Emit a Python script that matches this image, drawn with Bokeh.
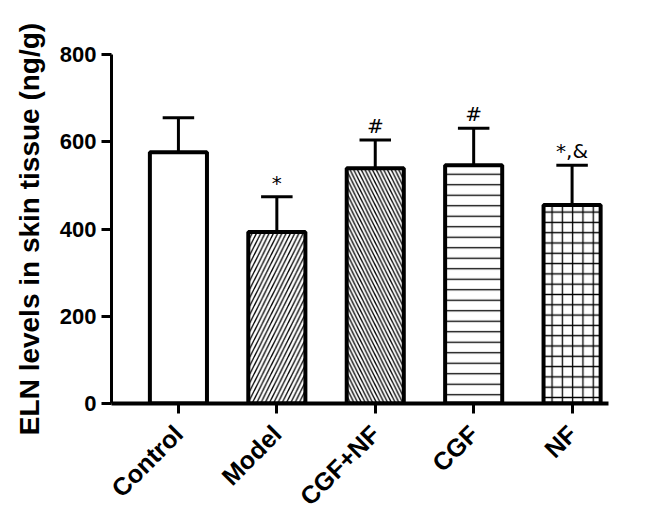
import math
from bokeh.plotting import figure
from bokeh.models import ColumnDataSource, FixedTicker, Range1d
from bokeh.core.properties import value
from bokeh.embed import file_html
from bokeh.resources import INLINE

# ---- data ----
categories = ["Control", "Model", "CGF+NF", "CGF", "NF"]
means = [576, 393, 539, 546, 455]
sds = [79, 81, 65, 85, 91]
marks = ["", "*", "#", "#", "*,&"]
y_ticks = [0, 200, 400, 600, 800]

# ---- styles ----
patterns = [" ", "/", "\\", "-", "+"]
scales = [10, 8.5, 7.5, 10.5, 10.3]

xs = list(range(len(categories)))
tops = [m + s for m, s in zip(means, sds)]

p = figure(width=645, height=525, output_backend="svg", toolbar_location=None,
           x_range=Range1d(-0.68, 4.37), y_range=Range1d(0, 800),
           min_border_left=111, min_border_right=37, min_border_top=54, min_border_bottom=122)
p.grid.visible = False
p.outline_line_color = None
p.background_fill_color = "white"
p.border_fill_color = "white"

src = ColumnDataSource(dict(x=xs, top=means, pat=patterns, sc=scales))
p.vbar(x="x", top="top", bottom=0, width=0.58, source=src,
       fill_color="white", line_color="black", line_width=4,
       hatch_pattern="pat", hatch_scale="sc", hatch_color="black", hatch_weight=1.3)

# error bars (upper only)
esrc = ColumnDataSource(dict(x=xs, m=means, t=tops,
                             xl=[x - 0.16 for x in xs], xr=[x + 0.16 for x in xs]))
p.segment(x0="x", y0="m", x1="x", y1="t", source=esrc, line_color="black", line_width=3)
p.segment(x0="xl", y0="t", x1="xr", y1="t", source=esrc, line_color="black", line_width=3)

# significance marks
msrc = ColumnDataSource(dict(x=xs, y=tops, t=marks))
p.text(x="x", y="y", text="t", source=msrc, text_align="center", text_baseline="bottom",
       y_offset=-2, text_font=value("DejaVu Sans"), text_font_size="20px",
       text_color="black")

# axes
p.xaxis.ticker = FixedTicker(ticks=xs)
p.xaxis.major_label_overrides = {i: c for i, c in enumerate(categories)}
p.xaxis.major_label_orientation = math.pi / 4
p.xaxis.axis_line_width = 4
p.xaxis.major_tick_line_width = 3
p.xaxis.major_tick_out = 10
p.xaxis.major_tick_in = 0
p.xaxis.minor_tick_line_color = None
p.xaxis.major_label_text_font = "Liberation Sans"
p.xaxis.major_label_text_font_style = "bold"
p.xaxis.major_label_text_font_size = "25px"
p.xaxis.major_label_text_color = "black"
p.xaxis.major_label_standoff = 16

p.yaxis.ticker = FixedTicker(ticks=y_ticks)
p.yaxis.axis_line_width = 3
p.yaxis.major_tick_line_width = 3
p.yaxis.major_tick_out = 10
p.yaxis.major_tick_in = 0
p.yaxis.minor_tick_line_color = None
p.yaxis.major_label_text_font = "Liberation Sans"
p.yaxis.major_label_text_font_style = "bold"
p.yaxis.major_label_text_font_size = "22px"
p.yaxis.major_label_text_color = "black"
p.yaxis.major_label_standoff = 5
p.yaxis.axis_label = "ELN levels in skin tissue (ng/g)"
p.yaxis.axis_label_text_font = "Liberation Sans"
p.yaxis.axis_label_text_font_style = "bold"
p.yaxis.axis_label_text_font_size = "28px"
p.yaxis.axis_label_text_color = "black"
p.yaxis.axis_label_standoff = 12

open("out.html", "w").write(file_html(p, INLINE))
